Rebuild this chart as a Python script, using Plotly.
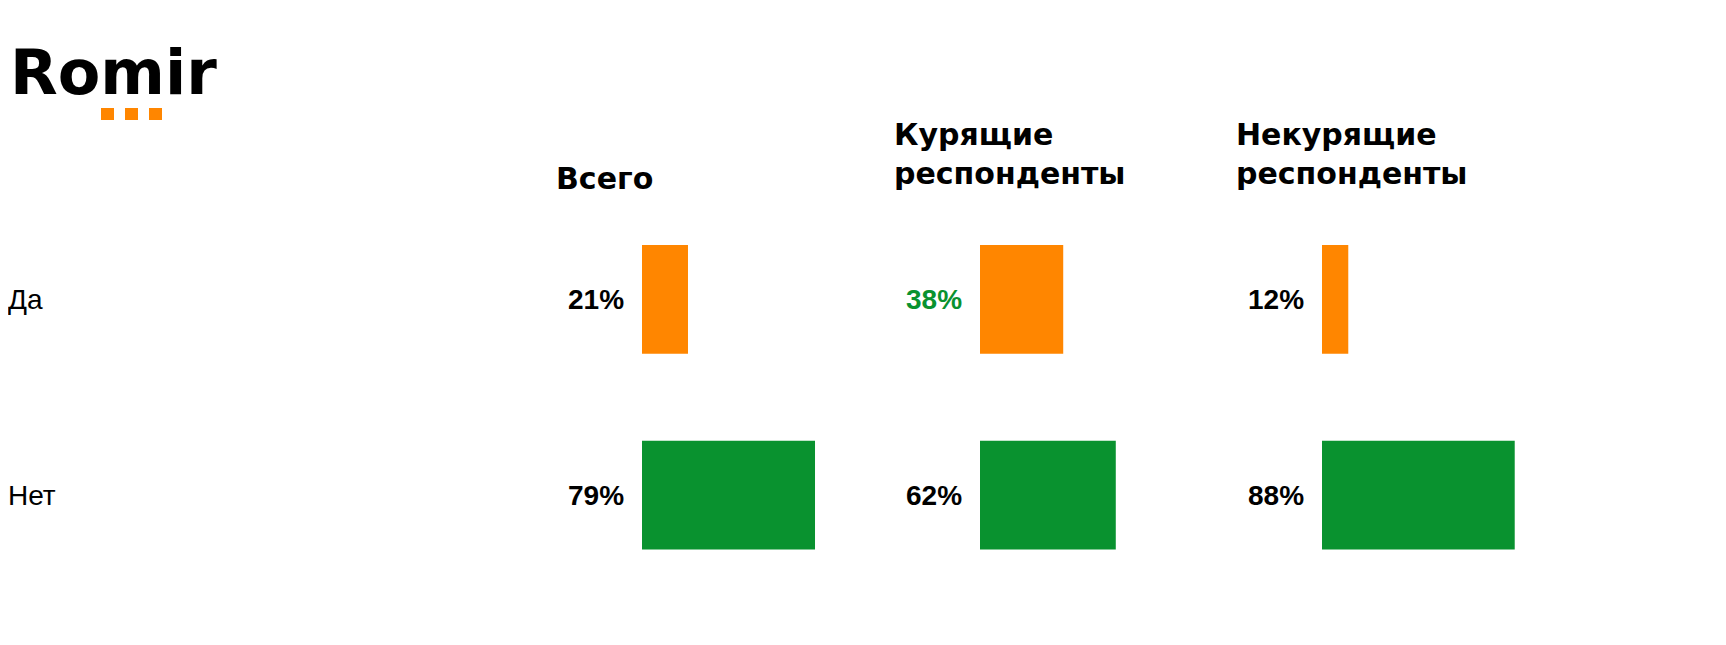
import plotly.graph_objects as go

answers = ["Да", "Нет"]
groups = ["Всего", "Курящие<br>респонденты", "Некурящие<br>респонденты"]
values = [[21, 79], [38, 62], [12, 88]]
bar_colors = ["#FF8600", "#09922F"]
label_colors = [["#000000", "#000000"], ["#09922F", "#000000"], ["#000000", "#000000"]]

W, H = 1726, 645
bar_left = [634, 972, 1314]
full_px = 219
y_dom = [60 / H, 451.5 / H]

fig = go.Figure()
for i, vals in enumerate(values):
    n = "" if i == 0 else str(i + 1)
    fig.add_trace(go.Bar(
        x=vals, y=answers, orientation="h", width=0.556,
        marker=dict(color=bar_colors, line=dict(width=0)),
        xaxis="x" + n, yaxis="y" + n, showlegend=False, hoverinfo="skip",
    ))
    x0 = bar_left[i] / W
    fig.layout["xaxis" + n] = dict(domain=[x0, x0 + full_px / W], range=[0, 100],
                                   visible=False, fixedrange=True)
    fig.layout["yaxis" + n] = dict(domain=y_dom, range=[1.5, -0.5], visible=False,
                                   anchor="x" + n, fixedrange=True)
    for j, v in enumerate(vals):
        fig.add_annotation(x=0, y=answers[j], xref="x" + n, yref="y" + n,
                           text=f"<b>{v}%</b>", showarrow=False, xanchor="right",
                           xshift=-16, font=dict(size=28, color=label_colors[i][j]))
    # header
    two = "<br>" in groups[i]
    fig.add_annotation(x=(bar_left[i] - 88) / W, y=(H - (146 if two else 170)) / H,
                       xref="paper", yref="paper", text=f"<b>{groups[i]}</b>",
                       showarrow=False, xanchor="left", yanchor="middle", align="left",
                       font=dict(size=30, color="#000000", family="DejaVu Sans"))

for j, a in enumerate(answers):
    fig.add_annotation(x=0, y=a, xref="paper", yref="y", text=a, showarrow=False,
                       xanchor="left", xshift=-2, font=dict(size=28, color="#000000"))

# Romir logo
fig.add_annotation(x=0, y=(H - 64) / H, xref="paper", yref="paper",
                   text="<b>Romir</b>", showarrow=False, xanchor="left", yanchor="middle",
                   font=dict(size=62, color="#000000", family="DejaVu Sans"))
for k in range(3):
    xs = 93 + k * 24
    fig.add_shape(type="rect", xref="paper", yref="paper",
                  x0=xs / W, x1=(xs + 13) / W, y0=(H - 112) / H, y1=(H - 100) / H,
                  fillcolor="#FF8600", line=dict(width=0))

fig.update_layout(
    width=W, height=H, margin=dict(l=0, r=0, t=0, b=0),
    paper_bgcolor="white", plot_bgcolor="white", barmode="overlay",
    font=dict(family="Arial, Liberation Sans", color="#000000"),
)
fig.write_html("out.html")
